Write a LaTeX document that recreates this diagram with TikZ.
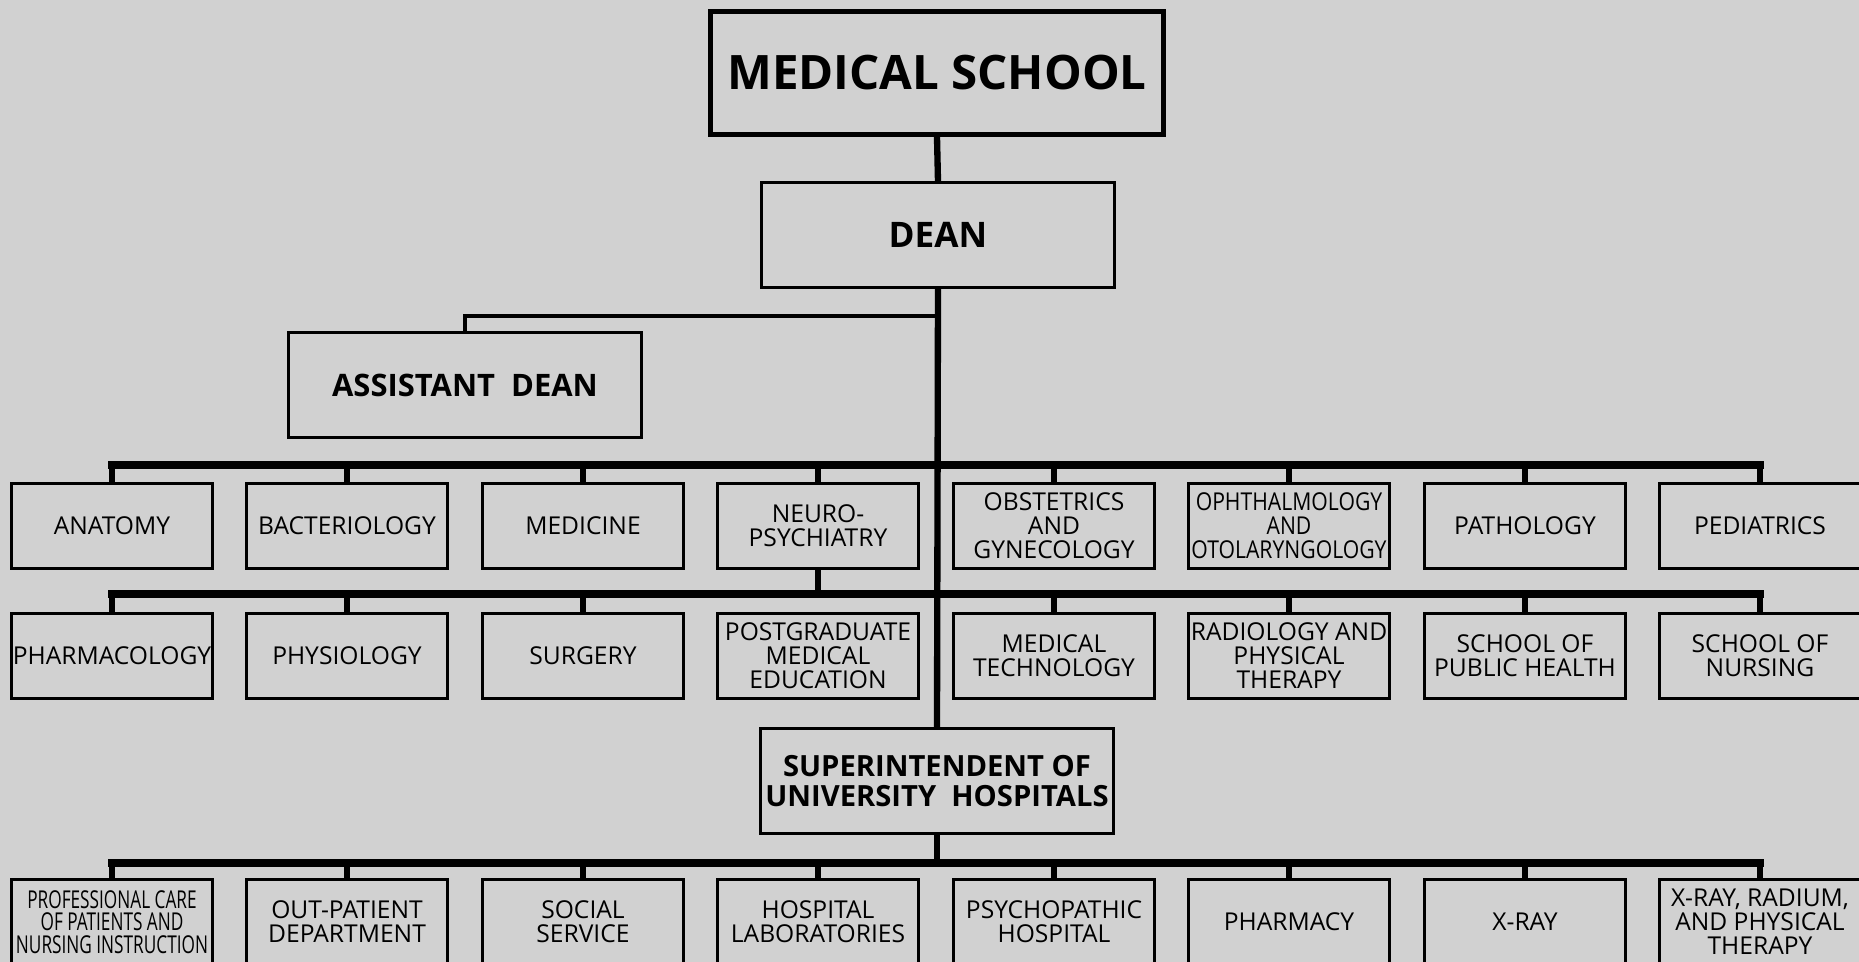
\documentclass[tikz,border=0pt]{standalone}
\usepackage{fontspec}
\setmainfont{Open Sans}
\newfontfamily\narrowfont[FakeStretch=0.86]{Open Sans}
\newfontfamily\narrowerfont[FakeStretch=0.7]{Open Sans}
\definecolor{paper}{gray}{0.82}
\tikzset{
	box/.style={draw, line width=0.85pt, minimum width=2.01cm, minimum height=0.84cm, align=center, inner xsep=0pt, inner ysep=1pt, font=\fontsize{7}{6.8}\selectfont},
	narrow/.style={font=\narrowfont\fontsize{7}{6.8}\selectfont},
	narrower/.style={font=\narrowerfont\fontsize{7}{6.4}\selectfont},
	head/.style={box, minimum width=3.52cm, minimum height=1.04cm, font=\bfseries\fontsize{8.3}{8.4}\selectfont},
	bar/.style={line width=2.4pt, line cap=rect},
	tick/.style={line width=1.7pt},
	stem/.style={line width=1.8pt},
	link/.style={line width=1.1pt},
}
\begin{document}
\begin{tikzpicture}[x=0.01cm, y=-0.01cm]
	\clip (0,0) rectangle (1859,962);
	\fill[paper] (0,0) rectangle (1859,962);
	\node[box, minimum width=4.53cm, minimum height=1.23cm, line width=1.3pt, font=\bfseries\fontsize{13.5}{14}\selectfont] (school) at (937,73) {MEDICAL SCHOOL};
	\node[head, font=\bfseries\fontsize{10}{11}\selectfont] (dean) at (938,235) {DEAN};
	\node[head, font=\bfseries\fontsize{8.8}{9}\selectfont] (asst) at (465,385) {ASSISTANT\ \ DEAN};
	\node[head, minimum height=1.05cm] (sup) at (937,781) {SUPERINTENDENT OF\\UNIVERSITY\ \ HOSPITALS};
	\node[box] (anatomy) at (112,526) {ANATOMY};
	\node[box] (bacteriology) at (347,526) {BACTERIOLOGY};
	\node[box] (medicine) at (583,526) {MEDICINE};
	\node[box] (neuro) at (818,526) {NEURO-\\PSYCHIATRY};
	\node[box] (obstetrics) at (1054,526) {OBSTETRICS\\AND\\GYNECOLOGY};
	\node[box, narrow] (ophthalmology) at (1289,526) {OPHTHALMOLOGY\\AND\\OTOLARYNGOLOGY};
	\node[box] (pathology) at (1525,526) {PATHOLOGY};
	\node[box] (pediatrics) at (1760,526) {PEDIATRICS};
	\node[box] (pharmacology) at (112,656) {PHARMACOLOGY};
	\node[box] (physiology) at (347,656) {PHYSIOLOGY};
	\node[box] (surgery) at (583,656) {SURGERY};
	\node[box] (postgrad) at (818,656) {POSTGRADUATE\\MEDICAL\\EDUCATION};
	\node[box] (medtech) at (1054,656) {MEDICAL\\TECHNOLOGY};
	\node[box] (radiology) at (1289,656) {RADIOLOGY AND\\PHYSICAL\\THERAPY};
	\node[box] (publichealth) at (1525,656) {SCHOOL OF\\PUBLIC HEALTH};
	\node[box] (nursing) at (1760,656) {SCHOOL OF\\NURSING};
	\node[box, narrower] (care) at (112,922) {PROFESSIONAL CARE\\OF PATIENTS AND\\NURSING INSTRUCTION};
	\node[box] (outpatient) at (347,922) {OUT-PATIENT\\DEPARTMENT};
	\node[box] (social) at (583,922) {SOCIAL\\SERVICE};
	\node[box] (hosplab) at (818,922) {HOSPITAL\\LABORATORIES};
	\node[box] (psychopathic) at (1054,922) {PSYCHOPATHIC\\HOSPITAL};
	\node[box] (pharmacy) at (1289,922) {PHARMACY};
	\node[box] (xray) at (1525,922) {X-RAY};
	\node[box] (radium) at (1760,922) {X-RAY, RADIUM,\\AND PHYSICAL\\THERAPY};
	\coordinate (adj) at (937,316);
	\coordinate (b1) at (937,465);
	\coordinate (b2) at (937,594);
	\coordinate (b3) at (937,863);
	\draw[stem] (school.south) -- (dean.north);
	\draw[stem] (dean.south) -- (sup.north);
	\draw[stem] (sup.south) -- (b3);
	\draw[link] (asst.north) |- (adj);
	\draw[bar] (anatomy.north |- b1) -- (pediatrics.north |- b1);
	\draw[bar] (pharmacology.north |- b2) -- (nursing.north |- b2);
	\draw[bar] (care.north |- b3) -- (radium.north |- b3);
	\foreach \n in {anatomy,bacteriology,medicine,neuro,obstetrics,ophthalmology,pathology,pediatrics}
		\draw[tick] (\n.north) -- (\n.north |- b1);
	\foreach \n in {pharmacology,physiology,surgery,medtech,radiology,publichealth,nursing}
		\draw[tick] (\n.north) -- (\n.north |- b2);
	\draw[tick] (neuro.south) -- (neuro.south |- b2);
	\foreach \n in {care,outpatient,social,hosplab,psychopathic,pharmacy,xray,radium}
		\draw[tick] (\n.north) -- (\n.north |- b3);
\end{tikzpicture}
\end{document}
